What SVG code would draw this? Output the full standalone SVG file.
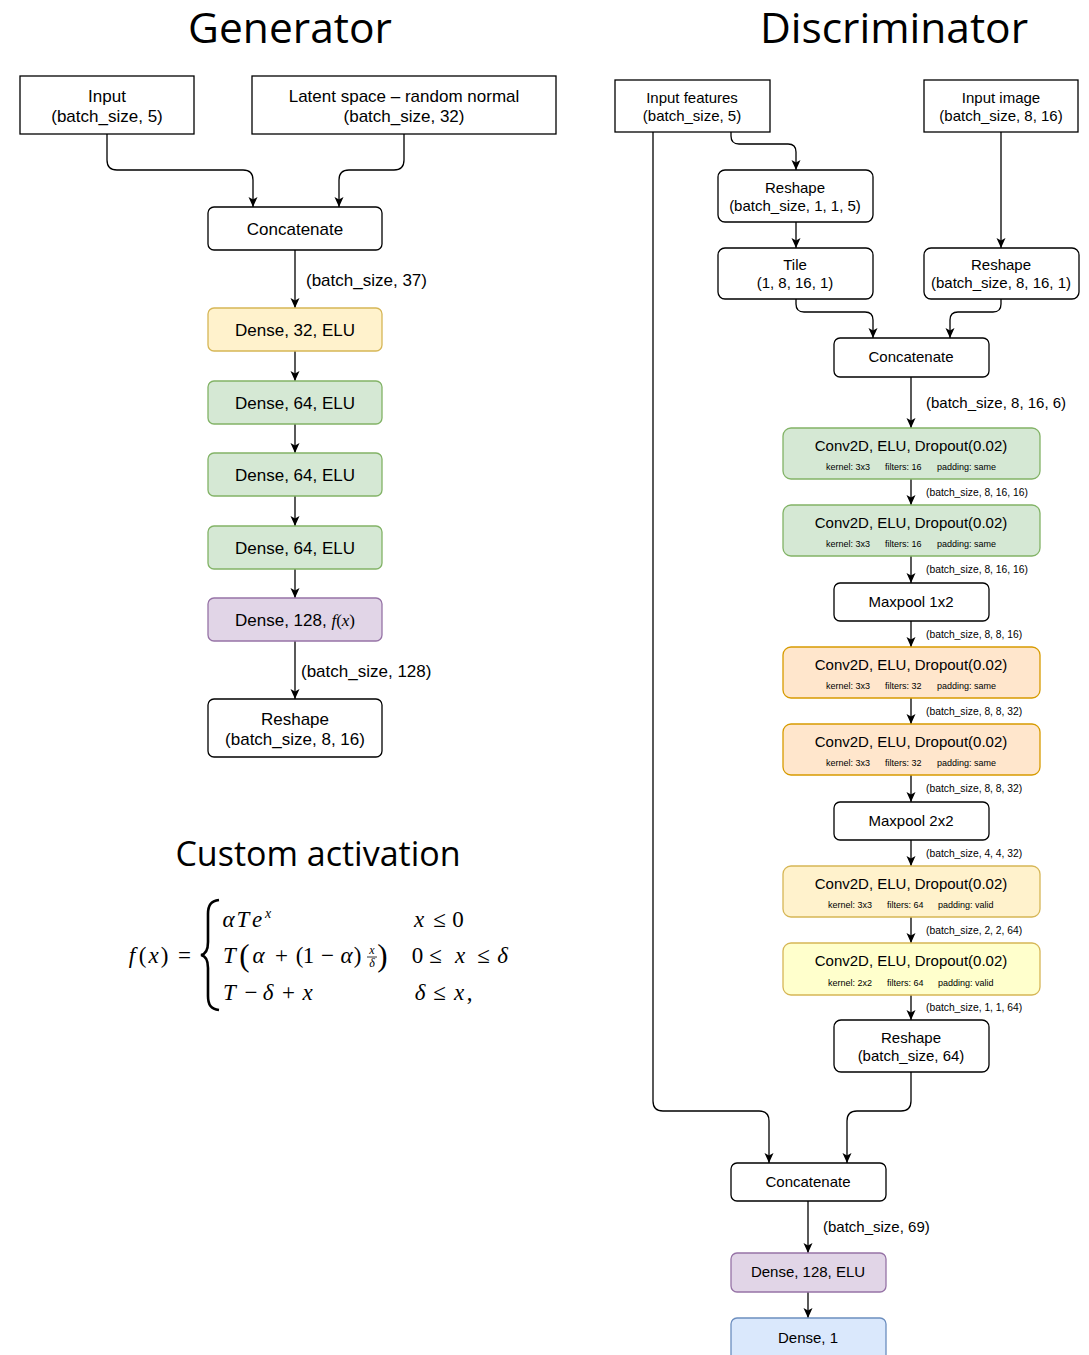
<svg xmlns="http://www.w3.org/2000/svg" width="1089" height="1355" viewBox="0 0 1089 1355">
<style>
.bg{fill:#fff}
.plain{fill:#fff;stroke:#000;stroke-width:1.3}
.green{fill:#d5e8d4;stroke:#82b366;stroke-width:1.3}
.orange{fill:#ffe6cc;stroke:#d79b00;stroke-width:1.3}
.yellow{fill:#fff2cc;stroke:#d6b656;stroke-width:1.3}
.lyellow{fill:#ffffcc;stroke:#d6b656;stroke-width:1.3}
.purple{fill:#e1d5e7;stroke:#9673a6;stroke-width:1.3}
.blue{fill:#dae8fc;stroke:#6c8ebf;stroke-width:1.3}
.g{font-family:"Liberation Sans",Arial,sans-serif;font-size:17px;text-anchor:middle;fill:#000}
.d{font-family:"Liberation Sans",Arial,sans-serif;font-size:15px;text-anchor:middle;fill:#000}
.lbl{font-family:"Liberation Sans",Arial,sans-serif;font-size:17px;fill:#000}
.lbl15{font-family:"Liberation Sans",Arial,sans-serif;font-size:15px;fill:#000}
.sm{font-family:"Liberation Sans",Arial,sans-serif;font-size:10.3px;fill:#000}
.tiny{font-family:"Liberation Sans",Arial,sans-serif;font-size:9px;fill:#000}
.title{font-family:"Open Sans","Noto Sans",sans-serif;font-size:42.5px;text-anchor:middle;fill:#000}
.sub{font-family:"Open Sans","Noto Sans",sans-serif;font-size:34px;text-anchor:middle;fill:#000}
.m{font-family:"Liberation Serif","Times New Roman",serif;font-size:23px;fill:#000;text-anchor:middle}
.i{font-style:italic}
.sup{font-size:14px}
.frac{font-size:12px}
.big{font-size:31px}
.edge{fill:none;stroke:#000;stroke-width:1.3;marker-end:url(#arr)}
</style>
<defs>
<marker id="arr" viewBox="-11 -6 12 12" refX="0" refY="0" markerWidth="12" markerHeight="12" markerUnits="userSpaceOnUse" orient="auto">
<path d="M0,0 L-10,-4.5 L-7.5,0 L-10,4.5 Z" fill="#000"/>
</marker>
</defs>
<rect class="bg" x="0" y="0" width="1089" height="1355"/>

<text class="title" x="290" y="43">Generator</text>
<text class="title" x="894" y="43">Discriminator</text>
<text class="sub" x="318" y="866">Custom activation</text>

<g id="connectors">
<path class="edge" d="M107,134 V160 Q107,170 117,170 H243 Q253,170 253,180 V207"/>
<path class="edge" d="M404,134 V160 Q404,170 394,170 H349 Q339,170 339,180 V207"/>
<path class="edge" d="M295,250 V308"/>
<path class="edge" d="M295,351 V381"/>
<path class="edge" d="M295,424 V453"/>
<path class="edge" d="M295,496 V526"/>
<path class="edge" d="M295,569 V598"/>
<path class="edge" d="M295,641 V699"/>
<path class="edge" d="M731,132 V136 Q731,144 739,144 H788 Q796,144 796,152 V170"/>
<path class="edge" d="M1001,132 V248"/>
<path class="edge" d="M796,222 V248"/>
<path class="edge" d="M796,299 V304 Q796,312 804,312 H865 Q873,312 873,320 V338"/>
<path class="edge" d="M1001,299 V304 Q1001,312 993,312 H958 Q950,312 950,320 V338"/>
<path class="edge" d="M911,377 V428"/>
<path class="edge" d="M911,479 V505"/>
<path class="edge" d="M911,556 V583"/>
<path class="edge" d="M911,621 V647"/>
<path class="edge" d="M911,698 V724"/>
<path class="edge" d="M911,775 V802"/>
<path class="edge" d="M911,840 V866"/>
<path class="edge" d="M911,917 V943"/>
<path class="edge" d="M911,995 V1020"/>
<path class="edge" d="M911,1072 V1101 Q911,1111 901,1111 H857 Q847,1111 847,1121 V1163"/>
<path class="edge" d="M653,132 V1101 Q653,1111 663,1111 H759 Q769,1111 769,1121 V1163"/>
<path class="edge" d="M808,1201 V1253"/>
<path class="edge" d="M808,1292 V1318"/>
</g>

<g id="edge-labels">
<text class="lbl" x="306" y="286">(batch_size, 37)</text>
<text class="lbl" x="301" y="677">(batch_size, 128)</text>
<text class="lbl15" x="926" y="408">(batch_size, 8, 16, 6)</text>
<text class="sm" x="926" y="496">(batch_size, 8, 16, 16)</text>
<text class="sm" x="926" y="573">(batch_size, 8, 16, 16)</text>
<text class="sm" x="926" y="638">(batch_size, 8, 8, 16)</text>
<text class="sm" x="926" y="715">(batch_size, 8, 8, 32)</text>
<text class="sm" x="926" y="792">(batch_size, 8, 8, 32)</text>
<text class="sm" x="926" y="857">(batch_size, 4, 4, 32)</text>
<text class="sm" x="926" y="934">(batch_size, 2, 2, 64)</text>
<text class="sm" x="926" y="1011">(batch_size, 1, 1, 64)</text>
<text class="lbl15" x="823" y="1232">(batch_size, 69)</text>
</g>

<g id="g-input"><rect class="plain" x="20" y="76" width="174" height="58"/><text class="g" x="107" y="102">Input</text><text class="g" x="107" y="122">(batch_size, 5)</text></g>
<g id="g-latent"><rect class="plain" x="252" y="76" width="304" height="58"/><text class="g" x="404" y="102">Latent space – random normal</text><text class="g" x="404" y="122">(batch_size, 32)</text></g>
<g id="g-concat"><rect class="plain" x="208" y="207" width="174" height="43" rx="6"/><text class="g" x="295" y="235">Concatenate</text></g>
<g id="g-dense32"><rect class="yellow" x="208" y="308" width="174" height="43" rx="6"/><text class="g" x="295" y="336">Dense, 32, ELU</text></g>
<g id="g-dense64a"><rect class="green" x="208" y="381" width="174" height="43" rx="6"/><text class="g" x="295" y="409">Dense, 64, ELU</text></g>
<g id="g-dense64b"><rect class="green" x="208" y="453" width="174" height="43" rx="6"/><text class="g" x="295" y="481">Dense, 64, ELU</text></g>
<g id="g-dense64c"><rect class="green" x="208" y="526" width="174" height="43" rx="6"/><text class="g" x="295" y="554">Dense, 64, ELU</text></g>
<g id="g-dense128"><rect class="purple" x="208" y="598" width="174" height="43" rx="6"/><text class="g" x="295" y="626">Dense, 128, <tspan font-family="Liberation Serif,serif" font-style="italic">f</tspan><tspan font-family="Liberation Serif,serif">(</tspan><tspan font-family="Liberation Serif,serif" font-style="italic">x</tspan><tspan font-family="Liberation Serif,serif">)</tspan></text></g>
<g id="g-reshape"><rect class="plain" x="208" y="699" width="174" height="58" rx="6"/><text class="g" x="295" y="725">Reshape</text><text class="g" x="295" y="745">(batch_size, 8, 16)</text></g>

<g id="formula">
<text class="m i" x="132" y="963">f</text>
<text class="m" x="142.5" y="963">(</text>
<text class="m i" x="153.5" y="963">x</text>
<text class="m" x="164.5" y="963">)</text>
<text class="m" x="184.5" y="963">=</text>
<path d="M219,900 C211,901 208,905 208,914 L208,942 C208,950 206,954 201,955 C206,956 208,960 208,968 L208,996 C208,1005 211,1009 219,1010" fill="none" stroke="#000" stroke-width="2.6"/>
<text class="m i" x="228.5" y="927">α</text>
<text class="m i" x="243" y="927">T</text>
<text class="m i" x="257" y="927">e</text>
<text class="m i sup" x="268" y="918">x</text>
<text class="m i" x="229.5" y="963">T</text>
<text class="m big" x="244.5" y="966">(</text>
<text class="m i" x="258.5" y="963">α</text>
<text class="m" x="281.5" y="963">+</text>
<text class="m" x="299.5" y="963">(</text>
<text class="m" x="308.5" y="963">1</text>
<text class="m" x="327.5" y="963">−</text>
<text class="m i" x="346.5" y="963">α</text>
<text class="m" x="357.5" y="963">)</text>
<text class="m i frac" x="372" y="954">x</text>
<line x1="367" y1="957" x2="377" y2="957" stroke="#000" stroke-width="0.8"/>
<text class="m i frac" x="372" y="967">δ</text>
<text class="m big" x="382.5" y="966">)</text>
<text class="m i" x="229.5" y="1000">T</text>
<text class="m" x="251" y="1000">−</text>
<text class="m i" x="268" y="1000">δ</text>
<text class="m" x="288.5" y="1000">+</text>
<text class="m i" x="307.5" y="1000">x</text>
<text class="m i" x="419" y="927">x</text>
<text class="m" x="439.5" y="927">≤</text>
<text class="m" x="458" y="927">0</text>
<text class="m" x="417.5" y="963">0</text>
<text class="m" x="435.5" y="963">≤</text>
<text class="m i" x="460" y="963">x</text>
<text class="m" x="483.5" y="963">≤</text>
<text class="m i" x="502.5" y="963">δ</text>
<text class="m i" x="420" y="1000">δ</text>
<text class="m" x="439.5" y="1000">≤</text>
<text class="m i" x="459" y="1000">x</text>
<text class="m" x="469.5" y="1000">,</text>
</g>

<g id="d-infeat"><rect class="plain" x="615" y="80" width="155" height="52"/><text class="d" x="692" y="103">Input features</text><text class="d" x="692" y="121">(batch_size, 5)</text></g>
<g id="d-inimg"><rect class="plain" x="924" y="80" width="154" height="52"/><text class="d" x="1001" y="103">Input image</text><text class="d" x="1001" y="121">(batch_size, 8, 16)</text></g>
<g id="d-reshape1"><rect class="plain" x="718" y="170" width="155" height="52" rx="7"/><text class="d" x="795" y="193">Reshape</text><text class="d" x="795" y="211">(batch_size, 1, 1, 5)</text></g>
<g id="d-tile"><rect class="plain" x="718" y="248" width="155" height="51" rx="7"/><text class="d" x="795" y="270">Tile</text><text class="d" x="795" y="288">(1, 8, 16, 1)</text></g>
<g id="d-reshape2"><rect class="plain" x="924" y="248" width="155" height="51" rx="7"/><text class="d" x="1001" y="270">Reshape</text><text class="d" x="1001" y="288">(batch_size, 8, 16, 1)</text></g>
<g id="d-concat1"><rect class="plain" x="834" y="338" width="155" height="39" rx="6"/><text class="d" x="911" y="362">Concatenate</text></g>
<g id="d-conv1"><rect class="green" x="783" y="428" width="257" height="51" rx="8"/><text class="d" x="911" y="451">Conv2D, ELU, Dropout(0.02)</text><text class="tiny" x="826" y="470">kernel: 3x3</text><text class="tiny" x="885" y="470">filters: 16</text><text class="tiny" x="937" y="470">padding: same</text></g>
<g id="d-conv2"><rect class="green" x="783" y="505" width="257" height="51" rx="8"/><text class="d" x="911" y="528">Conv2D, ELU, Dropout(0.02)</text><text class="tiny" x="826" y="547">kernel: 3x3</text><text class="tiny" x="885" y="547">filters: 16</text><text class="tiny" x="937" y="547">padding: same</text></g>
<g id="d-maxpool1"><rect class="plain" x="834" y="583" width="155" height="38" rx="6"/><text class="d" x="911" y="607">Maxpool 1x2</text></g>
<g id="d-conv3"><rect class="orange" x="783" y="647" width="257" height="51" rx="8"/><text class="d" x="911" y="670">Conv2D, ELU, Dropout(0.02)</text><text class="tiny" x="826" y="689">kernel: 3x3</text><text class="tiny" x="885" y="689">filters: 32</text><text class="tiny" x="937" y="689">padding: same</text></g>
<g id="d-conv4"><rect class="orange" x="783" y="724" width="257" height="51" rx="8"/><text class="d" x="911" y="747">Conv2D, ELU, Dropout(0.02)</text><text class="tiny" x="826" y="766">kernel: 3x3</text><text class="tiny" x="885" y="766">filters: 32</text><text class="tiny" x="937" y="766">padding: same</text></g>
<g id="d-maxpool2"><rect class="plain" x="834" y="802" width="155" height="38" rx="6"/><text class="d" x="911" y="826">Maxpool 2x2</text></g>
<g id="d-conv5"><rect class="yellow" x="783" y="866" width="257" height="51" rx="8"/><text class="d" x="911" y="889">Conv2D, ELU, Dropout(0.02)</text><text class="tiny" x="828" y="908">kernel: 3x3</text><text class="tiny" x="887" y="908">filters: 64</text><text class="tiny" x="938" y="908">padding: valid</text></g>
<g id="d-conv6"><rect class="lyellow" x="783" y="943" width="257" height="52" rx="8"/><text class="d" x="911" y="966">Conv2D, ELU, Dropout(0.02)</text><text class="tiny" x="828" y="986">kernel: 2x2</text><text class="tiny" x="887" y="986">filters: 64</text><text class="tiny" x="938" y="986">padding: valid</text></g>
<g id="d-reshape3"><rect class="plain" x="834" y="1020" width="155" height="52" rx="7"/><text class="d" x="911" y="1043">Reshape</text><text class="d" x="911" y="1061">(batch_size, 64)</text></g>
<g id="d-concat2"><rect class="plain" x="731" y="1163" width="155" height="38" rx="6"/><text class="d" x="808" y="1187">Concatenate</text></g>
<g id="d-dense128"><rect class="purple" x="731" y="1253" width="155" height="39" rx="6"/><text class="d" x="808" y="1277">Dense, 128, ELU</text></g>
<g id="d-dense1"><rect class="blue" x="731" y="1318" width="155" height="45" rx="6"/><text class="d" x="808" y="1343">Dense, 1</text></g>
</svg>
